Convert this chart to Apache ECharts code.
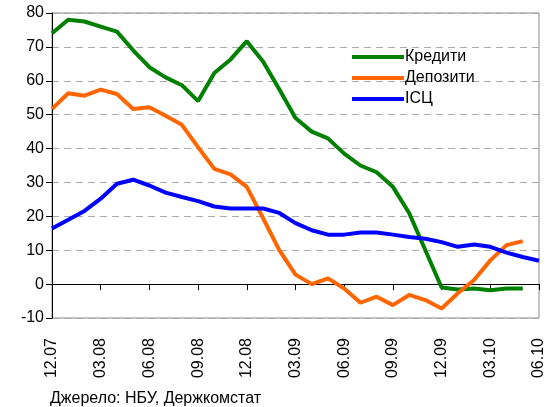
<!DOCTYPE html>
<html>
<head>
<meta charset="utf-8">
<script src="https://cdn.jsdelivr.net/npm/echarts@6/dist/echarts.min.js"></script>
<style>
    html, body { margin: 0; padding: 0; background: #fff; }
    #chart { width: 547px; height: 407px; }
</style>
</head>
<body>
<div id="chart"></div>
<script>
// місяці 12.07 - 06.10
var months = ['12.07', '01.08', '02.08', '03.08', '04.08', '05.08', '06.08', '07.08', '08.08', '09.08',
    '10.08', '11.08', '12.08', '01.09', '02.09', '03.09', '04.09', '05.09', '06.09', '07.09',
    '08.09', '09.09', '10.09', '11.09', '12.09', '01.10', '02.10', '03.10', '04.10', '05.10', '06.10'];
var credits = [74, 78, 77.5, 76, 74.5, 69, 64, 61, 58.7, 54,
    62.3, 66.3, 71.7, 65.7, 57.5, 49, 45, 43, 38.5, 35,
    33, 28.7, 21, 10, -1, -1.6, -1.3, -1.8, -1.3, -1.3, null];
var deposits = [51.7, 56.3, 55.6, 57.4, 56.1, 51.7, 52.2, 49.7, 47, 40.4,
    34, 32.4, 28.7, 19.5, 10, 2.8, 0, 1.7, -1.3, -5.5,
    -3.7, -6.2, -3.2, -4.7, -7.2, -2.7, 1.2, 7, 11.5, 12.7, null];
var cpi = [16.4, 19, 21.6, 25.2, 29.6, 30.8, 29.1, 27, 25.7, 24.5,
    22.9, 22.3, 22.3, 22.3, 21, 18, 15.9, 14.6, 14.6, 15.2,
    15.2, 14.6, 13.9, 13.4, 12.4, 11, 11.7, 11, 9.3, 8, 6.9];
var yTicks = [-10, 0, 10, 20, 30, 40, 50, 60, 70, 80];

var font = 'Liberation Sans, Arial, sans-serif';
var myChart = echarts.init(document.getElementById('chart'));
myChart.setOption({
    animation: false,
    textStyle: { fontFamily: font },
    grid: {
        left: 52,
        right: 6,
        top: 13,
        bottom: 89,
        show: true,
        borderColor: '#888',
        borderWidth: 1
    },
    legend: {
        orient: 'vertical',
        left: 347,
        top: 44,
        itemWidth: 52,
        itemHeight: 4,
        itemGap: 5,
        icon: 'rect',
        textStyle: { color: '#000', fontSize: 16, padding: [0, 0, 0, -4] },
        data: ['Кредити', 'Депозити', 'ІСЦ']
    },
    graphic: [{
        type: 'text',
        left: 50,
        top: 391,
        style: { text: 'Джерело: НБУ, Держкомстат', fill: '#000', font: '16px ' + font }
    }],
    xAxis: [
        {
            type: 'category',
            data: months,
            boundaryGap: false,
            axisLine: { onZero: true, lineStyle: { color: '#000', width: 1 } },
            axisTick: { show: true, interval: 2, length: 6, lineStyle: { color: '#000' } },
            axisLabel: { show: false },
            splitLine: { show: false }
        },
        {
            type: 'category',
            data: months,
            boundaryGap: false,
            position: 'bottom',
            axisLine: { show: false, onZero: false },
            axisTick: { show: false },
            axisLabel: { interval: 2, rotate: 90, margin: 20, fontSize: 16, color: '#000' },
            splitLine: { show: false }
        }
    ],
    yAxis: {
        type: 'value',
        min: yTicks[0],
        max: yTicks[yTicks.length - 1],
        interval: 10,
        axisLine: { show: true, lineStyle: { color: '#000' } },
        axisTick: { show: true, length: 6, lineStyle: { color: '#000' } },
        axisLabel: { fontSize: 16, color: '#000', margin: 8 },
        splitLine: { show: true, lineStyle: { color: '#aaa', type: [7, 5], width: 1 } }
    },
    series: [
        {
            name: 'Кредити',
            type: 'line',
            data: credits,
            showSymbol: false,
            lineStyle: { width: 4, color: '#008000' },
            itemStyle: { color: '#008000' }
        },
        {
            name: 'Депозити',
            type: 'line',
            data: deposits,
            showSymbol: false,
            lineStyle: { width: 4, color: '#ff6600' },
            itemStyle: { color: '#ff6600' }
        },
        {
            name: 'ІСЦ',
            type: 'line',
            data: cpi,
            showSymbol: false,
            lineStyle: { width: 4, color: '#0000ff' },
            itemStyle: { color: '#0000ff' }
        }
    ]
});
</script>
</body>
</html>
